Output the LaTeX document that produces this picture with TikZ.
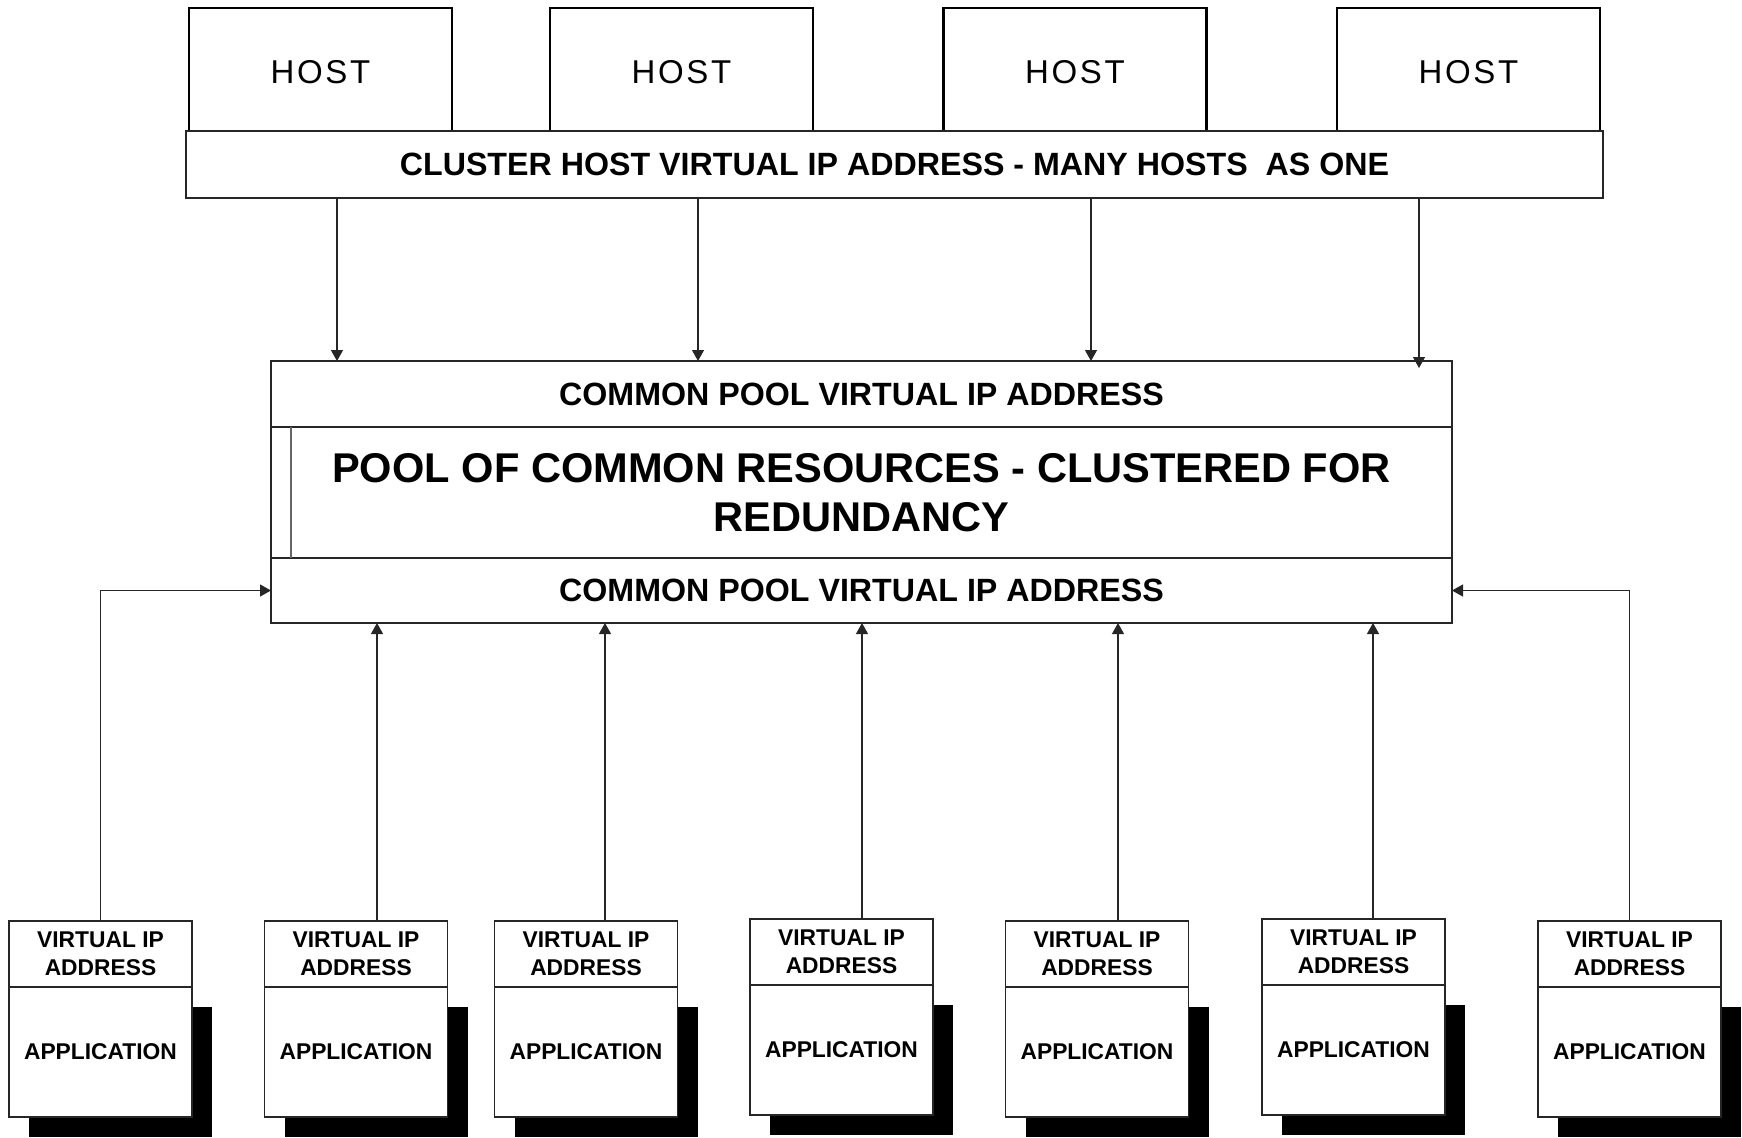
\documentclass[tikz,border=0pt]{standalone}
\usepackage{fontspec}
\setmainfont{Liberation Sans}
\usetikzlibrary{arrows.meta,calc}
\newcommand{\hostlabel}{\raisebox{-1.5pt}[\height][\depth]{HOST}}
\begin{document}
\begin{tikzpicture}[x=0.5pt,y=-0.5pt,
  thinline/.style={line width=0.65pt, draw=black!85},
  arr/.style={thinline, -{Triangle[length=5.5pt,width=6pt]}},
  hostbox/.style={draw=black, line width=1.2pt, fill=white,
    minimum width=131.5pt, minimum height=61.5pt, inner sep=0pt, outer sep=0pt,
    font=\fontsize{16.5}{20}\selectfont\addfontfeatures{LetterSpace=8}},
  barbox/.style={thinline, fill=white, inner sep=0pt, outer sep=0pt,
    font=\bfseries\fontsize{16.1}{19}\selectfont},
  poolsec/.style={thinline, fill=white, minimum width=590.5pt, inner sep=0pt,
    outer sep=0pt, font=\bfseries\fontsize{16.1}{19}\selectfont},
  bigtext/.style={font=\bfseries\fontsize{20.8}{24.5}\selectfont, align=center},
  vipbox/.style={thinline, fill=white, minimum width=91.5pt, minimum height=33pt,
    inner sep=0pt, outer sep=0pt, align=center,
    font=\bfseries\fontsize{11.4}{14}\selectfont},
  appbox/.style={thinline, fill=white, minimum width=91.5pt, minimum height=65pt,
    inner sep=0pt, outer sep=0pt, font=\bfseries\fontsize{11.4}{14}\selectfont},
  shadowfill/.style={fill=black}
]
\useasboundingbox (0,0) rectangle (1742,1137);

% hosts sitting on the cluster bar
\node[hostbox] (h1) at (320.5,69.5) {\hostlabel};
\node[hostbox] (h2) at (681.5,69.5) {\hostlabel};
\node[hostbox] (h3) at (1075,69.5) {\hostlabel};
\node[hostbox] (h4) at (1468.5,69.5) {\hostlabel};

\node[barbox, minimum width=708.5pt, minimum height=33.5pt] (bar) at (894.5,164.5)
  {CLUSTER HOST VIRTUAL IP ADDRESS - MANY HOSTS\ \ AS ONE};

% resource pool, three stacked sections
\node[poolsec, minimum height=33pt] (ptop) at (861.5,394) {COMMON POOL VIRTUAL IP ADDRESS};
\node[poolsec, minimum height=65.5pt, bigtext] (pmid) at (861.5,492.5)
  {POOL OF COMMON RESOURCES - CLUSTERED FOR\\REDUNDANCY};
\node[poolsec, minimum height=32.5pt] (pbot) at (861.5,590.5) {COMMON POOL VIRTUAL IP ADDRESS};
\draw[thinline, draw=black!60] ($(pmid.north west)+(20,0)$) -- ($(pmid.south west)+(20,0)$);

% cluster bar feeds the pool
\foreach \i/\dx in {1/337,2/698,3/1091} {
  \coordinate (da\i) at (\dx,0);
  \draw[arr] (bar.south -| da\i) -- (ptop.north -| da\i);
}
\coordinate (da4) at (1419,0);
\draw[arr, shorten >=-3.5pt] (bar.south -| da4) -- (ptop.north -| da4);

% application boxes with drop shadows
\foreach \i/\cx/\top in {1/100.5/921, 2/356/921, 3/586/921, 4/841.5/919,
                         5/1097/921, 6/1353.5/919, 7/1629.5/921} {
  \fill[shadowfill] (\cx-91.5+20, \top+66+20) rectangle (\cx+91.5+20, \top+196+20);
  \node[vipbox] (vip\i) at (\cx,\top+33) {VIRTUAL IP\\ADDRESS};
  \node[appbox] (app\i) at (\cx,\top+131) {APPLICATION};
}

% applications reach the pool
\draw[arr] (vip1.north) |- (pbot.west);
\draw[arr] (vip7.north) |- (pbot.east);
\foreach \i/\ax in {2/377,3/605,4/862,5/1118,6/1373} {
  \coordinate (ua\i) at (\ax,0);
  \draw[arr] (vip\i.north -| ua\i) -- (pbot.south -| ua\i);
}
\end{tikzpicture}
\end{document}
